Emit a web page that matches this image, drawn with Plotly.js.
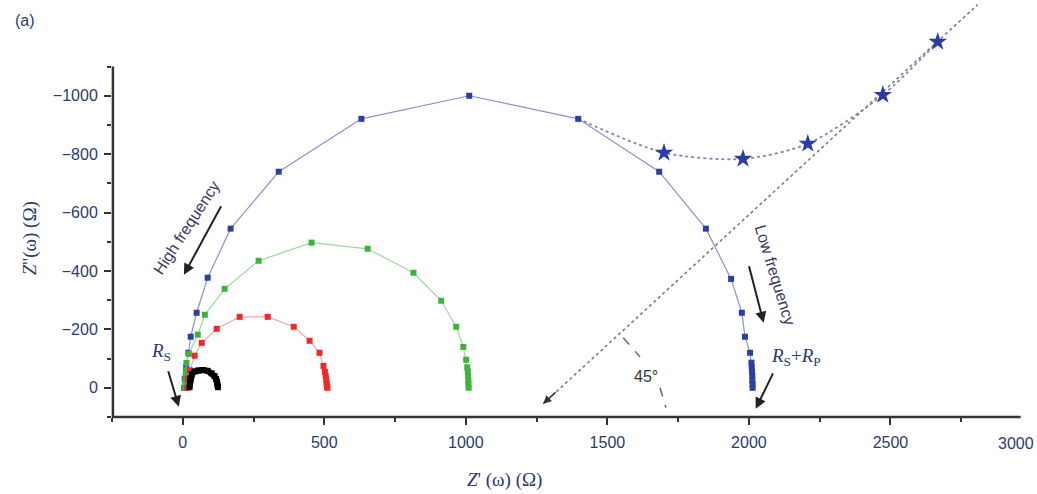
<!DOCTYPE html>
<html>
<head>
<meta charset="utf-8">
<script src="https://cdn.plot.ly/plotly-3.0.1.min.js"></script>
<style>html,body{margin:0;padding:0;background:#fff;}#chart{width:1037px;height:494px;}</style>
</head>
<body>
<div id="chart"></div>
<script>
// Blue sample: Z' and Z'' (Ohm)
const blueX = [5, 7, 12, 20, 28, 49, 88, 169, 339, 631, 1012, 1397, 1683, 1848, 1937, 1975, 1986, 2004, 2009, 2010, 2011, 2012, 2012, 2013, 2013];
const blueY = [0, -30, -70, -120, -175, -257, -377, -545, -740, -921, -1000, -921, -740, -545, -373, -257, -175, -120, -86, -70, -55, -40, -25, -12, 0];
// Green sample
const greenX = [8, 9, 10, 11, 13, 21, 53, 78, 148, 268, 455, 653, 815, 913, 966, 991, 1001, 1005, 1007, 1008, 1009, 1009, 1010];
const greenY = [0, -20, -40, -60, -85, -116, -182, -250, -339, -435, -497, -476, -394, -298, -209, -140, -96, -70, -55, -40, -25, -12, 0];
// Red sample
const redX = [15, 18, 25, 42, 67, 120, 201, 300, 392, 448, 483, 497, 502, 505, 507, 508, 510, 511];
const redY = [0, -30, -60, -110, -154, -202, -243, -243, -209, -161, -120, -75, -55, -40, -28, -15, -5, 0];
// Black sample
const blackX = [24, 25, 27, 32, 42, 56, 72, 88, 102, 112, 118, 121, 123, 124];
const blackY = [-2, -18, -33, -46, -56, -60, -61, -58, -50, -40, -30, -20, -10, -2];
// Star series (dotted branch)
const starX = [1700, 1979, 2208, 2473, 2667];
const starY = [-805, -784, -836, -1003, -1185];
const starBranchX = [1397, 1700, 1979, 2208, 2473, 2667];
const starBranchY = [-921, -805, -784, -836, -1003, -1185];
// 45 degree Warburg line
const wX = [1273, 2808];
const wY = [55, -1312];
// Ticks
const xTicks = [0, 500, 1000, 1500, 2000, 2500];
const xMinor = [-250, 250, 750, 1250, 1750, 2250, 2750];
const yTicks = [-1000, -800, -600, -400, -200, 0];
const yMinor = [-1100, -900, -700, -500, -300, -100, 100];

const txtColor = '#2c3a6e';
const axisColor = '#333333';
const tickFont = {family: 'Liberation Sans Narrow, Arial Narrow, sans-serif', size: 16, color: txtColor};

const traces = [
  {x: wX, y: wY, mode: 'lines', line: {color: '#7a7a86', width: 1.6, dash: 'dot'}, hoverinfo: 'skip'},
  {x: starBranchX, y: starBranchY, mode: 'lines', line: {color: '#7f86b8', width: 1.8, dash: 'dot', shape: 'spline', smoothing: 0.8}, hoverinfo: 'skip'},
  {x: blueX, y: blueY, mode: 'lines+markers', line: {color: '#8a92d0', width: 1.2}, marker: {symbol: 'square', size: 6, color: '#2d3fa6'}},
  {x: greenX, y: greenY, mode: 'lines+markers', line: {color: '#9fd69f', width: 1.2}, marker: {symbol: 'square', size: 6, color: '#3cb43c'}},
  {x: redX, y: redY, mode: 'lines+markers', line: {color: '#f4a6a6', width: 1.2}, marker: {symbol: 'square', size: 6, color: '#ec2a2a'}},
  {x: blackX, y: blackY, mode: 'lines+markers', line: {color: '#000000', width: 6}, marker: {symbol: 'square', size: 6, color: '#000000'}},
  {x: starX, y: starY, mode: 'markers', marker: {symbol: 'star', size: 14, color: '#2b3ca4'}, cliponaxis: false}
];

const arrowAnn = (x, y, ax, ay) => ({x: x, y: y, xref: 'x', yref: 'y', ax: ax, ay: ay, showarrow: true, arrowhead: 2, arrowsize: 1.1, arrowwidth: 2, arrowcolor: '#222', text: ''});
const paperText = (text, x, y, font, angle, xanchor) => ({text: text, xref: 'paper', yref: 'paper', x: x, y: y, xanchor: xanchor || 'center', yanchor: 'middle', textangle: angle || 0, showarrow: false, font: font});

const serifFont = {family: 'Liberation Serif, Times New Roman, serif', size: 19, color: txtColor};
const labelFont = {family: 'Liberation Sans Narrow, Arial Narrow, sans-serif', size: 16, color: '#3a3a60'};

const layout = {
  width: 1037, height: 494,
  margin: {l: 112, r: 5, t: 0, b: 77},
  paper_bgcolor: '#ffffff', plot_bgcolor: '#ffffff',
  showlegend: false,
  xaxis: {
    range: [-250, 3000], showgrid: false, zeroline: false, showline: false,
    tickmode: 'array', tickvals: xTicks, ticks: 'outside', ticklen: 7, tickwidth: 2, tickcolor: axisColor,
    minor: {tickvals: xMinor, ticks: 'outside', ticklen: 4, tickwidth: 2, tickcolor: axisColor},
    tickfont: tickFont,
    ticklabelstandoff: 4
  },
  yaxis: {
    range: [100, -1328], showgrid: false, zeroline: false, showline: false,
    tickmode: 'array', tickvals: yTicks, ticks: 'outside', ticklen: 7, tickwidth: 2, tickcolor: axisColor,
    minor: {tickvals: yMinor, ticks: 'outside', ticklen: 4, tickwidth: 2, tickcolor: axisColor},
    tickfont: tickFont,
    ticklabelstandoff: 3
  },
  shapes: [
    {type: 'line', xref: 'x', yref: 'paper', x0: -250, x1: 2960, y0: 0, y1: 0, line: {color: axisColor, width: 2.5}},
    {type: 'line', xref: 'paper', yref: 'y', x0: 0.001, x1: 0.001, y0: 100, y1: -1100, line: {color: axisColor, width: 2.5}},
    {type: 'line', xref: 'x', yref: 'y', x0: 1556, y0: -171, x1: 1615, y1: -106, line: {color: '#666', width: 1.5, dash: 'dash'}},
    {type: 'line', xref: 'x', yref: 'y', x0: 1686, y0: 0, x1: 1707, y1: 68, line: {color: '#666', width: 1.5, dash: 'dash'}}
  ],
  annotations: [
    paperText('(a)', -0.0946, 0.952, {family: 'Liberation Sans, Arial, sans-serif', size: 16, color: txtColor}),
    paperText('3000', 1.0043, -0.0647, tickFont, 0, 'right'),
    paperText("<i>Z</i>' (ω) (Ω)", 0.427, -0.151, serifFont),
    paperText("<i>Z</i>''(ω) (Ω)", -0.089, 0.429, serifFont, -90),
    {text: 'High frequency', xref: 'x', yref: 'y', x: 14, y: -548, textangle: -57, showarrow: false, font: labelFont},
    {text: 'Low frequency', xref: 'x', yref: 'y', x: 2091, y: -387, textangle: 73, showarrow: false, font: labelFont},
    {text: '<i>R</i><sub>S</sub>', xref: 'x', yref: 'y', x: -78, y: -123, showarrow: false, font: serifFont},
    {text: '<i>R</i><sub>S</sub>+<i>R</i><sub>P</sub>', xref: 'x', yref: 'y', x: 2165, y: -106, showarrow: false, font: serifFont},
    {text: '45°', xref: 'x', yref: 'y', x: 1635, y: -38, showarrow: false, font: {family: 'Liberation Sans Narrow, Arial Narrow, sans-serif', size: 16, color: '#333'}},
    arrowAnn(4, -387, 38, -70),
    arrowAnn(2052, -223, -15, -58),
    arrowAnn(-14, 65, -11, -37),
    arrowAnn(2024, 72, 18, -37),
    Object.assign(arrowAnn(1273, 55, 14, -13), {arrowwidth: 1.5, arrowcolor: '#333'})
  ]
};

Plotly.newPlot('chart', traces, layout, {staticPlot: true, displayModeBar: false});
</script>
</body>
</html>
